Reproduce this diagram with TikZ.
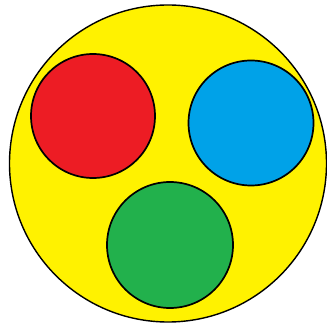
\documentclass[tikz,border=0pt]{standalone}
\usepackage{xcolor}
\usepackage{tikz}
\definecolor{discyellow}{RGB}{255,242,0}
\definecolor{discred}{RGB}{237,28,36}
\definecolor{discblue}{RGB}{0,162,232}
\definecolor{discgreen}{RGB}{34,177,76}

\begin{document}
\begin{tikzpicture}[
      x=1pt, y=-1pt,
      dot/.style={draw, circle, line width=1.7pt, inner sep=0pt,
        minimum size=124pt}
    ]
    \useasboundingbox (0,0) rectangle (327,326);
    \node[dot, fill=discyellow, line width=1.4pt, minimum size=317pt] (outer) at (168,163.5) {};
    \node[dot, fill=discred] (red) at (93,116) {};
    \node[dot, fill=discblue, minimum size=125pt] (blue) at (251,123) {};
    \node[dot, fill=discgreen, minimum size=126pt] (green) at (170,245) {};
  \end{tikzpicture}
\end{document}
